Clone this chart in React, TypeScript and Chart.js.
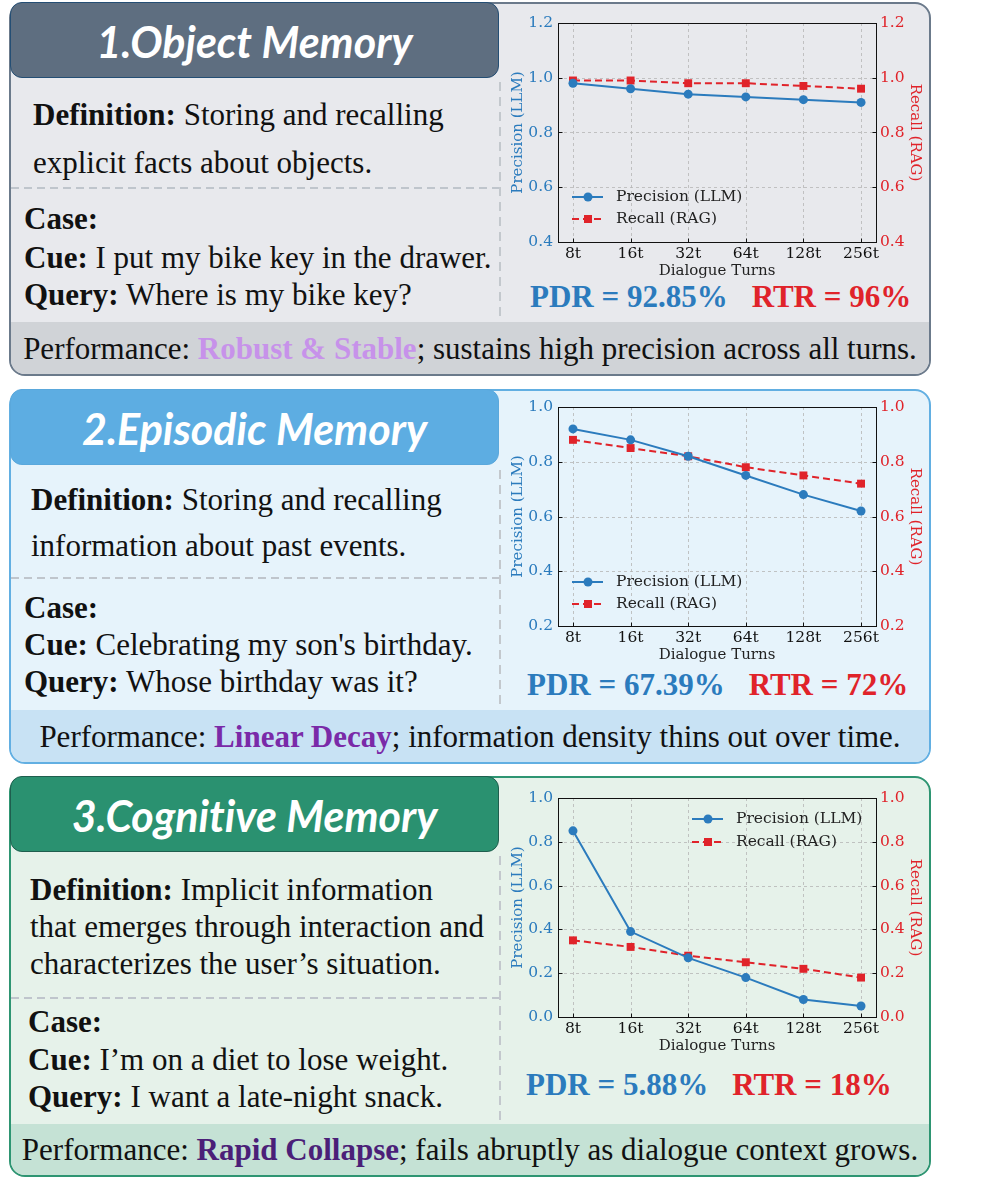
import React, { useEffect, useRef } from 'react';
import { Chart, registerables } from 'chart.js';

Chart.register(...registerables);

// ---------------- data ----------------
const turns = ['8t', '16t', '32t', '64t', '128t', '256t'];

const objectPrecision = [0.98, 0.96, 0.94, 0.93, 0.92, 0.91];
const objectRecall = [0.99, 0.99, 0.98, 0.98, 0.97, 0.96];
const objectRange = [0.4, 1.2];

const episodicPrecision = [0.92, 0.88, 0.82, 0.75, 0.68, 0.62];
const episodicRecall = [0.88, 0.85, 0.82, 0.78, 0.75, 0.72];
const episodicRange = [0.2, 1.0];

const cognitivePrecision = [0.85, 0.39, 0.27, 0.18, 0.08, 0.05];
const cognitiveRecall = [0.35, 0.32, 0.28, 0.25, 0.22, 0.18];
const cognitiveRange = [0.0, 1.0];

const pdrValues = ['92.85%', '67.39%', '5.88%'];
const rtrValues = ['96%', '72%', '18%'];

// ---------------- styles ----------------
const BLUE = '#2b7bbd';
const RED = '#e0232a';
const TICK_FONT = 'DejaVu Serif';
const TEXT_FONT = 'Liberation Serif';

const CW = 440;
const CH = 290;
const AREA = { left: 58, right: 376, top: 23, bottom: 242 };

const framePlugin = {
  id: 'frameGrid',
  beforeDatasetsDraw(chart: any) {
    const { ctx, chartArea } = chart;
    const xs = chart.scales.x;
    const ys = chart.scales.y;
    ctx.save();
    ctx.strokeStyle = '#b5b5b5';
    ctx.lineWidth = 0.8;
    ctx.setLineDash([3, 3]);
    xs.ticks.forEach((t: any) => {
      const px = Math.round(xs.getPixelForValue(t.value)) + 0.5;
      ctx.beginPath();
      ctx.moveTo(px, chartArea.top);
      ctx.lineTo(px, chartArea.bottom);
      ctx.stroke();
    });
    ys.ticks.forEach((t: any) => {
      const py = Math.round(ys.getPixelForValue(t.value)) + 0.5;
      ctx.beginPath();
      ctx.moveTo(chartArea.left, py);
      ctx.lineTo(chartArea.right, py);
      ctx.stroke();
    });
    ctx.restore();
  },
  afterDatasetsDraw(chart: any) {
    const { ctx, chartArea } = chart;
    const xs = chart.scales.x;
    const ys = chart.scales.y;
    ctx.save();
    ctx.setLineDash([]);
    ctx.strokeStyle = '#111';
    ctx.lineWidth = 1;
    const l = Math.round(chartArea.left) + 0.5;
    const r = Math.round(chartArea.right) + 0.5;
    const t = Math.round(chartArea.top) + 0.5;
    const b = Math.round(chartArea.bottom) + 0.5;
    ctx.strokeRect(l, t, r - l, b - t);
    ctx.beginPath();
    ys.ticks.forEach((tk: any) => {
      const py = Math.round(ys.getPixelForValue(tk.value)) + 0.5;
      ctx.moveTo(l, py);
      ctx.lineTo(l + 4, py);
      ctx.moveTo(r, py);
      ctx.lineTo(r - 4, py);
    });
    xs.ticks.forEach((tk: any) => {
      const px = Math.round(xs.getPixelForValue(tk.value)) + 0.5;
      ctx.moveTo(px, b);
      ctx.lineTo(px, b - 4);
    });
    ctx.stroke();
    ctx.restore();
  },
};

const legendPlugin = {
  id: 'innerLegend',
  afterDraw(chart: any, _args: any, opts: any) {
    const { ctx, chartArea } = chart;
    const x0 = chartArea.left + opts.x;
    let y = chartArea.top + opts.y;
    ctx.save();
    chart.data.datasets.forEach((ds: any) => {
      ctx.strokeStyle = ds.borderColor;
      ctx.fillStyle = ds.borderColor;
      ctx.lineWidth = 2;
      ctx.setLineDash(ds.borderDash || []);
      ctx.beginPath();
      ctx.moveTo(x0, y);
      ctx.lineTo(x0 + 31, y);
      ctx.stroke();
      ctx.setLineDash([]);
      const mx = x0 + 16;
      if (ds.pointStyle === 'rect') {
        ctx.fillRect(mx - 4, y - 4, 8, 8);
      } else {
        ctx.beginPath();
        ctx.arc(mx, y, 4.5, 0, Math.PI * 2);
        ctx.fill();
      }
      ctx.fillStyle = '#222';
      ctx.font = `15.5px "${TICK_FONT}"`;
      ctx.textBaseline = 'middle';
      ctx.textAlign = 'left';
      ctx.fillText(ds.label, x0 + 44, y);
      y += opts.gap;
    });
    ctx.restore();
  },
};

function MemChart(props: {
  top: number;
  precision: number[];
  recall: number[];
  range: number[];
  legend: { x: number; y: number; gap: number };
}) {
  const ref = useRef<HTMLCanvasElement>(null);
  useEffect(() => {
    const tickFont = { family: TICK_FONT, size: 15.5 };
    const titleFont = { family: TICK_FONT, size: 15 };
    const yTicks = (color: string, padding: number) => ({
      stepSize: 0.2,
      color,
      font: tickFont,
      padding,
      callback: (v: any) => Number(v).toFixed(1),
    });
    const chart = new Chart(ref.current as HTMLCanvasElement, {
      type: 'line',
      data: {
        datasets: [
          {
            label: 'Precision (LLM)',
            data: props.precision.map((v, i) => ({ x: i, y: v })),
            yAxisID: 'y',
            borderColor: BLUE,
            backgroundColor: BLUE,
            borderWidth: 2,
            pointStyle: 'circle',
            pointRadius: 4.5,
            pointBorderWidth: 0,
            pointBackgroundColor: BLUE,
            tension: 0,
          },
          {
            label: 'Recall (RAG)',
            data: props.recall.map((v, i) => ({ x: i, y: v })),
            yAxisID: 'y1',
            borderColor: RED,
            backgroundColor: RED,
            borderWidth: 2,
            borderDash: [7, 4],
            pointStyle: 'rect',
            pointRadius: 5.6,
            pointBorderWidth: 0,
            pointBackgroundColor: RED,
            tension: 0,
          },
        ] as any,
      },
      options: {
        responsive: false,
        animation: false,
        layout: { padding: { top: AREA.top, left: 0, right: 0, bottom: 0 } },
        plugins: {
          legend: { display: false },
          tooltip: { enabled: false },
          innerLegend: props.legend,
        } as any,
        scales: {
          x: {
            type: 'linear',
            min: -0.26,
            max: 5.26,
            afterBuildTicks: (s: any) => {
              s.ticks = turns.map((_, i) => ({ value: i }));
            },
            afterFit: (s: any) => {
              s.height = CH - AREA.bottom;
            },
            grid: { display: false, drawTicks: false },
            border: { display: false },
            ticks: {
              color: '#111',
              font: tickFont,
              padding: 3,
              autoSkip: false,
              maxRotation: 0,
              callback: (v: any) => turns[Number(v)] ?? '',
            },
            title: {
              display: true,
              text: 'Dialogue Turns',
              color: '#222',
              font: titleFont,
              padding: { top: 0, bottom: 10 },
            },
          },
          y: {
            type: 'linear',
            position: 'left',
            min: props.range[0],
            max: props.range[1],
            grid: { display: false, drawTicks: false },
            border: { display: false },
            afterFit: (s: any) => {
              s.width = AREA.left;
            },
            ticks: yTicks(BLUE, 5),
            title: {
              display: true,
              text: 'Precision (LLM)',
              color: BLUE,
              font: titleFont,
              padding: { top: 9, bottom: 0 },
            },
          },
          y1: {
            type: 'linear',
            position: 'right',
            min: props.range[0],
            max: props.range[1],
            grid: { display: false, drawTicks: false },
            border: { display: false },
            afterFit: (s: any) => {
              s.width = CW - AREA.right;
            },
            ticks: yTicks(RED, 4),
            title: {
              display: true,
              text: 'Recall (RAG)',
              color: RED,
              font: titleFont,
              padding: { top: 16, bottom: 0 },
            },
          },
        } as any,
      },
      plugins: [framePlugin, legendPlugin],
    });
    return () => chart.destroy();
  }, []);
  return (
    <canvas
      ref={ref}
      width={CW}
      height={CH}
      style={{ position: 'absolute', left: 500, top: props.top, width: CW, height: CH }}
    />
  );
}

function Line(props: { x: number; cy: number; children: any; size?: number }) {
  const size = props.size ?? 31;
  return (
    <div
      style={{
        position: 'absolute',
        left: props.x,
        top: props.cy - 20,
        height: 40,
        lineHeight: '40px',
        fontSize: size,
        fontFamily: TEXT_FONT,
        color: '#111',
        whiteSpace: 'nowrap',
      }}
    >
      {props.children}
    </div>
  );
}

function HDash(props: { y: number }) {
  return (
    <svg style={{ position: 'absolute', left: 11, top: props.y - 1, width: 489, height: 2 }}>
      <line x1={0} y1={1} x2={489} y2={1} stroke="#bfc5cc" strokeWidth={2} strokeDasharray="8 5" />
    </svg>
  );
}

function VDash(props: { y1: number; y2: number }) {
  const h = props.y2 - props.y1;
  return (
    <svg style={{ position: 'absolute', left: 499, top: props.y1, width: 2, height: h }}>
      <line x1={1} y1={4} x2={1} y2={h} stroke="#c3c8cd" strokeWidth={2} strokeDasharray="9 6" />
    </svg>
  );
}

type PanelSpec = {
  top: number;
  height: number;
  bg: string;
  border: string;
  titleBg: string;
  titleBorder: string;
  perfBg: string;
  perfH: number;
  title: string;
};

function Panel(p: PanelSpec & { children?: any }) {
  return (
    <>
      <div
        style={{
          position: 'absolute',
          left: 9,
          top: p.top,
          width: 922,
          height: p.height,
          boxSizing: 'border-box',
          background: p.bg,
          border: `2px solid ${p.border}`,
          borderRadius: 16,
          overflow: 'hidden',
        }}
      >
        <div
          style={{
            position: 'absolute',
            left: 0,
            right: 0,
            bottom: 0,
            height: p.perfH,
            background: p.perfBg,
          }}
        />
      </div>
      <div
        style={{
          position: 'absolute',
          left: 10,
          top: p.top,
          width: 489,
          height: 76,
          boxSizing: 'border-box',
          background: p.titleBg,
          border: `1.5px solid ${p.titleBorder}`,
          borderRadius: 12,
          display: 'flex',
          alignItems: 'center',
          justifyContent: 'center',
          color: '#fff',
          fontFamily: 'Lato',
          fontWeight: 700,
          fontStyle: 'italic',
          fontSize: 43,
          fontVariantLigatures: 'none',
          paddingTop: 3,
        }}
      >
        {p.title}
      </div>
      {p.children}
    </>
  );
}

function Scores(props: { x: number; cy: number; pdr: string; rtr: string }) {
  const st = {
    fontFamily: TEXT_FONT,
    fontWeight: 700,
    fontSize: 31,
  } as const;
  return (
    <div
      style={{
        position: 'absolute',
        left: props.x,
        top: props.cy - 20,
        height: 40,
        lineHeight: '40px',
        whiteSpace: 'nowrap',
        display: 'flex',
        gap: 24,
      }}
    >
      <span style={{ ...st, color: BLUE }}>PDR = {props.pdr}</span>
      <span style={{ ...st, color: RED }}>RTR = {props.rtr}</span>
    </div>
  );
}

function Perf(props: { cy: number; word: string; color: string; rest: string }) {
  return (
    <div
      style={{
        position: 'absolute',
        left: 9,
        width: 922,
        top: props.cy - 20,
        height: 40,
        lineHeight: '40px',
        textAlign: 'center',
        fontFamily: TEXT_FONT,
        fontSize: 31,
        color: '#111',
        whiteSpace: 'nowrap',
      }}
    >
      Performance: <b style={{ color: props.color }}>{props.word}</b>
      {props.rest}
    </div>
  );
}

export default function App() {
  return (
    <div
      style={{
        position: 'absolute',
        left: 0,
        top: 0,
        width: 996,
        height: 1186,
        background: '#ffffff',
        overflow: 'hidden',
      }}
    >
      {/* Panel 1 */}
      <Panel
        top={2}
        height={374}
        bg="#e8e9ed"
        border="#6b7a8b"
        titleBg="#5e6e80"
        titleBorder="#244e74"
        perfBg="#d0d3d7"
        perfH={52}
        title="1.Object Memory"
      >
        <Line x={33} cy={115}>
          <b>Definition:</b> Storing and recalling
        </Line>
        <Line x={33} cy={163}>explicit facts about objects.</Line>
        <HDash y={188} />
        <Line x={24} cy={219}>
          <b>Case:</b>
        </Line>
        <Line x={24} cy={258}>
          <b>Cue:</b> I put my bike key in the drawer.
        </Line>
        <Line x={24} cy={295}>
          <b>Query:</b> Where is my bike key?
        </Line>
        <VDash y1={78} y2={322} />
        <Scores x={530} cy={297} pdr={pdrValues[0]} rtr={rtrValues[0]} />
        <Perf cy={349} word="Robust & Stable" color="#c792ea" rest="; sustains high precision across all turns." />
        <MemChart
          top={0}
          precision={objectPrecision}
          recall={objectRecall}
          range={objectRange}
          legend={{ x: 14, y: 174, gap: 22 }}
        />
      </Panel>

      {/* Panel 2 */}
      <Panel
        top={389}
        height={375}
        bg="#e6f3fb"
        border="#62afe2"
        titleBg="#5dade2"
        titleBorder="#5aa8dc"
        perfBg="#c8e2f4"
        perfH={52}
        title="2.Episodic Memory"
      >
        <Line x={31} cy={500}>
          <b>Definition:</b> Storing and recalling
        </Line>
        <Line x={31} cy={546}>information about past events.</Line>
        <HDash y={578} />
        <Line x={24} cy={608}>
          <b>Case:</b>
        </Line>
        <Line x={24} cy={645}>
          <b>Cue:</b> Celebrating my son's birthday.
        </Line>
        <Line x={24} cy={682}>
          <b>Query:</b> Whose birthday was it?
        </Line>
        <VDash y1={466} y2={710} />
        <Scores x={527} cy={685} pdr={pdrValues[1]} rtr={rtrValues[1]} />
        <Perf cy={737} word="Linear Decay" color="#7a2aa8" rest="; information density thins out over time." />
        <MemChart
          top={384}
          precision={episodicPrecision}
          recall={episodicRecall}
          range={episodicRange}
          legend={{ x: 14, y: 175, gap: 22 }}
        />
      </Panel>

      {/* Panel 3 */}
      <Panel
        top={776}
        height={401}
        bg="#e6f2ea"
        border="#2e9572"
        titleBg="#2a9170"
        titleBorder="#1f5e4e"
        perfBg="#c5e2d5"
        perfH={51}
        title="3.Cognitive Memory"
      >
        <Line x={30} cy={890}>
          <b>Definition:</b> Implicit information
        </Line>
        <Line x={30} cy={927}>that emerges through interaction and</Line>
        <Line x={30} cy={964}>characterizes the user’s situation.</Line>
        <HDash y={998} />
        <Line x={28} cy={1022}>
          <b>Case:</b>
        </Line>
        <Line x={28} cy={1060}>
          <b>Cue:</b> I’m on a diet to lose weight.
        </Line>
        <Line x={28} cy={1097}>
          <b>Query:</b> I want a late-night snack.
        </Line>
        <VDash y1={852} y2={1124} />
        <Scores x={526} cy={1085} pdr={pdrValues[2]} rtr={rtrValues[2]} />
        <Perf cy={1150} word="Rapid Collapse" color="#4b1f78" rest="; fails abruptly as dialogue context grows." />
        <MemChart
          top={775}
          precision={cognitivePrecision}
          recall={cognitiveRecall}
          range={cognitiveRange}
          legend={{ x: 134, y: 21, gap: 23 }}
        />
      </Panel>
    </div>
  );
}
